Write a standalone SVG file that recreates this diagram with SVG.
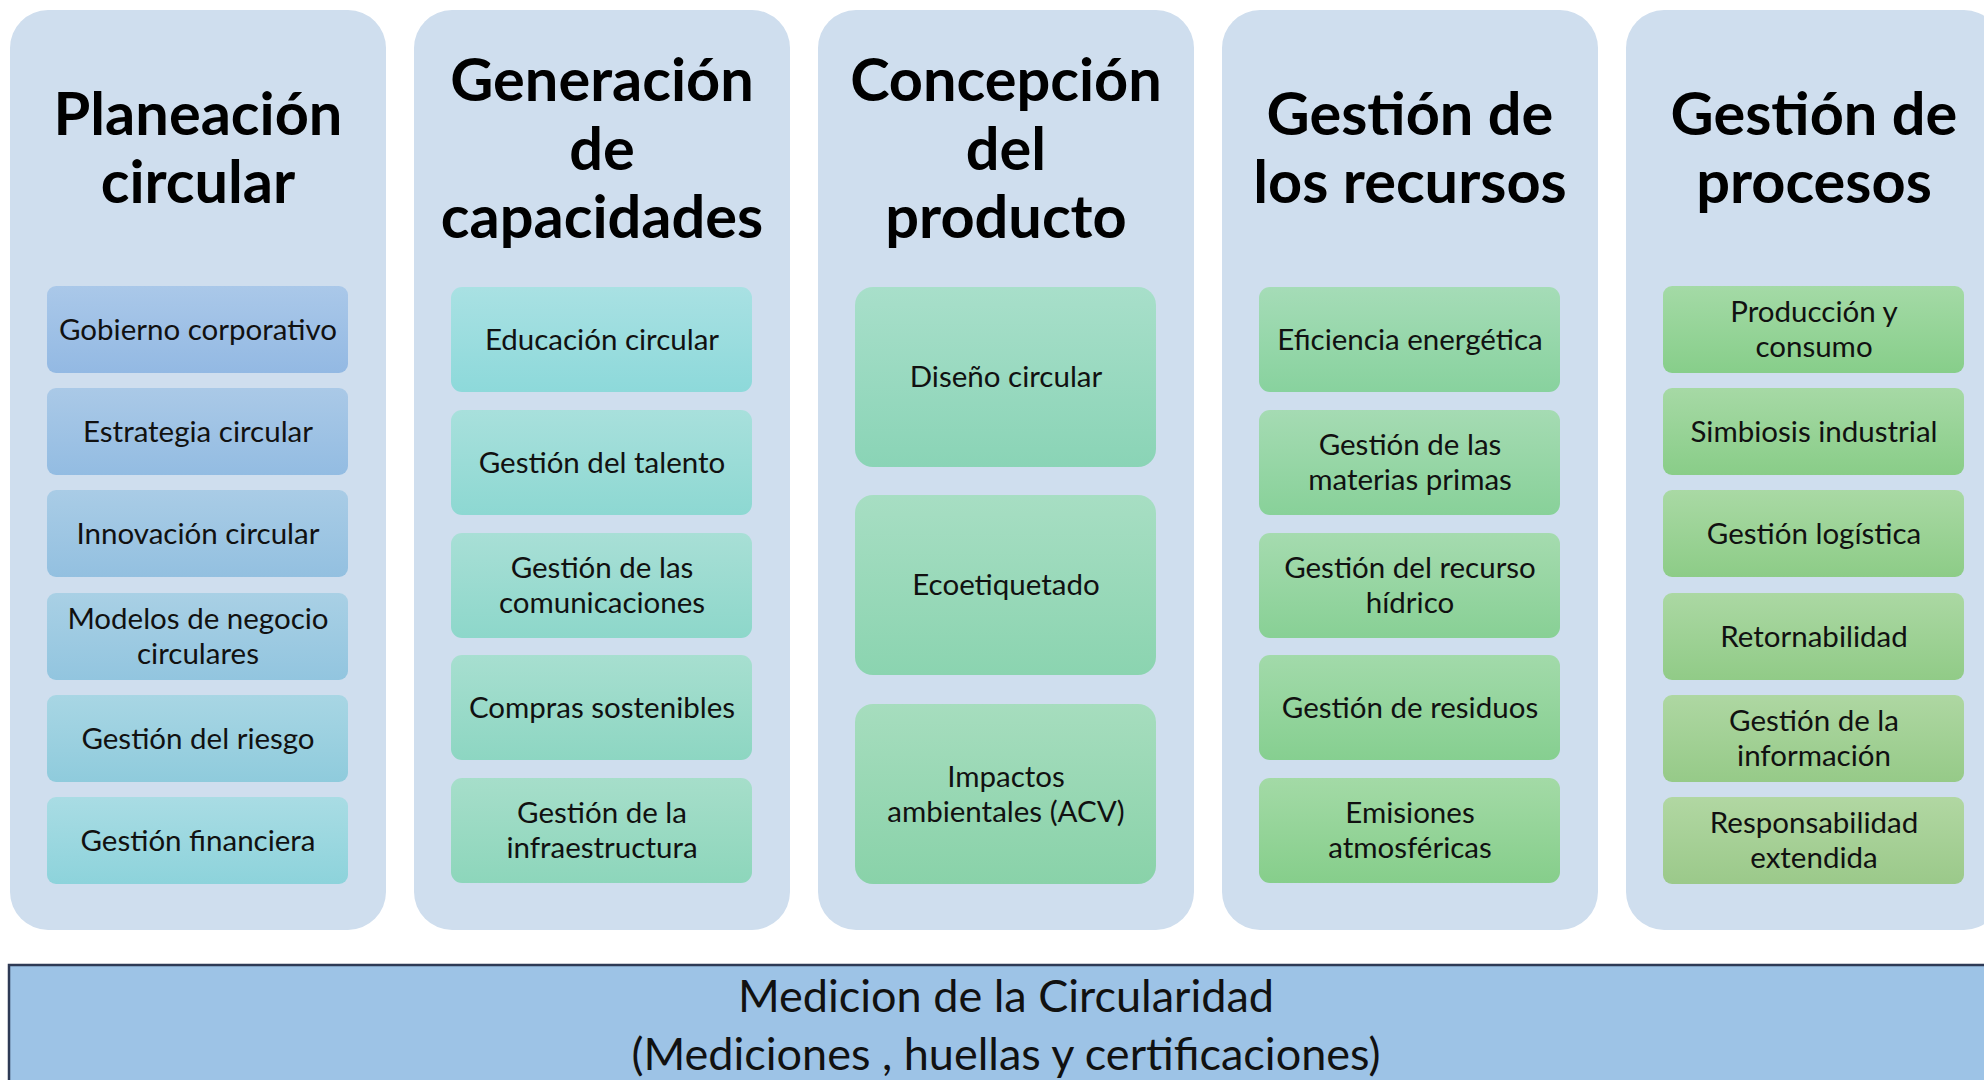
<svg xmlns="http://www.w3.org/2000/svg" width="1984" height="1080" viewBox="0 0 1984 1080">
<defs>
<style>
.col{fill:#CFDEEE}
.ttl{font-family:Lato,"Liberation Sans",sans-serif;font-weight:bold;font-size:59.5px;fill:#000;text-anchor:middle}
.lbl{font-family:Lato,"Liberation Sans",sans-serif;font-size:29.5px;fill:#111;text-anchor:middle}
.bot{font-family:Lato,"Liberation Sans",sans-serif;font-size:45px;fill:#111;text-anchor:middle}
</style>
<linearGradient id="a1" x1="0" y1="0" x2="0" y2="1"><stop offset="0" stop-color="#AAC8E9"/><stop offset="1" stop-color="#93B9E3"/></linearGradient>
<linearGradient id="a2" x1="0" y1="0" x2="0" y2="1"><stop offset="0" stop-color="#AAC9E7"/><stop offset="1" stop-color="#93BCE2"/></linearGradient>
<linearGradient id="a3" x1="0" y1="0" x2="0" y2="1"><stop offset="0" stop-color="#A9CCE6"/><stop offset="1" stop-color="#93C0E0"/></linearGradient>
<linearGradient id="a4" x1="0" y1="0" x2="0" y2="1"><stop offset="0" stop-color="#A9D0E5"/><stop offset="1" stop-color="#92C5DF"/></linearGradient>
<linearGradient id="a5" x1="0" y1="0" x2="0" y2="1"><stop offset="0" stop-color="#A8D6E4"/><stop offset="1" stop-color="#8FCBDC"/></linearGradient>
<linearGradient id="a6" x1="0" y1="0" x2="0" y2="1"><stop offset="0" stop-color="#A9DCE4"/><stop offset="1" stop-color="#8DD3DB"/></linearGradient>
<linearGradient id="b1" x1="0" y1="0" x2="0" y2="1"><stop offset="0" stop-color="#A9E1E3"/><stop offset="1" stop-color="#8DD9DA"/></linearGradient>
<linearGradient id="b2" x1="0" y1="0" x2="0" y2="1"><stop offset="0" stop-color="#A8E0DC"/><stop offset="1" stop-color="#8DD8D2"/></linearGradient>
<linearGradient id="b3" x1="0" y1="0" x2="0" y2="1"><stop offset="0" stop-color="#A8DFD6"/><stop offset="1" stop-color="#8DD7CA"/></linearGradient>
<linearGradient id="b4" x1="0" y1="0" x2="0" y2="1"><stop offset="0" stop-color="#A7DFD0"/><stop offset="1" stop-color="#8DD6C2"/></linearGradient>
<linearGradient id="b5" x1="0" y1="0" x2="0" y2="1"><stop offset="0" stop-color="#A6DECA"/><stop offset="1" stop-color="#8DD6BB"/></linearGradient>
<linearGradient id="c1" x1="0" y1="0" x2="0" y2="1"><stop offset="0" stop-color="#A8DFCA"/><stop offset="1" stop-color="#8AD4B6"/></linearGradient>
<linearGradient id="c2" x1="0" y1="0" x2="0" y2="1"><stop offset="0" stop-color="#A7DEC3"/><stop offset="1" stop-color="#8BD4B0"/></linearGradient>
<linearGradient id="c3" x1="0" y1="0" x2="0" y2="1"><stop offset="0" stop-color="#A6DDBE"/><stop offset="1" stop-color="#89D2A9"/></linearGradient>
<linearGradient id="d1" x1="0" y1="0" x2="0" y2="1"><stop offset="0" stop-color="#A5DCB7"/><stop offset="1" stop-color="#88D29E"/></linearGradient>
<linearGradient id="d2" x1="0" y1="0" x2="0" y2="1"><stop offset="0" stop-color="#A5DBB3"/><stop offset="1" stop-color="#88D199"/></linearGradient>
<linearGradient id="d3" x1="0" y1="0" x2="0" y2="1"><stop offset="0" stop-color="#A5DBAF"/><stop offset="1" stop-color="#88D095"/></linearGradient>
<linearGradient id="d4" x1="0" y1="0" x2="0" y2="1"><stop offset="0" stop-color="#A2DAAA"/><stop offset="1" stop-color="#86CF90"/></linearGradient>
<linearGradient id="d5" x1="0" y1="0" x2="0" y2="1"><stop offset="0" stop-color="#A3DAA6"/><stop offset="1" stop-color="#86CE8B"/></linearGradient>
<linearGradient id="e1" x1="0" y1="0" x2="0" y2="1"><stop offset="0" stop-color="#A4DAA6"/><stop offset="1" stop-color="#87CE8A"/></linearGradient>
<linearGradient id="e2" x1="0" y1="0" x2="0" y2="1"><stop offset="0" stop-color="#A6D9A5"/><stop offset="1" stop-color="#89CD88"/></linearGradient>
<linearGradient id="e3" x1="0" y1="0" x2="0" y2="1"><stop offset="0" stop-color="#A9D9A4"/><stop offset="1" stop-color="#8DCC87"/></linearGradient>
<linearGradient id="e4" x1="0" y1="0" x2="0" y2="1"><stop offset="0" stop-color="#ABD8A3"/><stop offset="1" stop-color="#91CB87"/></linearGradient>
<linearGradient id="e5" x1="0" y1="0" x2="0" y2="1"><stop offset="0" stop-color="#AED7A2"/><stop offset="1" stop-color="#96CA88"/></linearGradient>
<linearGradient id="e6" x1="0" y1="0" x2="0" y2="1"><stop offset="0" stop-color="#B1D7A2"/><stop offset="1" stop-color="#9BC98A"/></linearGradient>
</defs>
<rect width="1984" height="1080" fill="#FFFFFF"/>

<g id="col-planeacion">
<rect class="col" x="10" y="10" width="376" height="920" rx="38"/>
<text class="ttl" x="198" y="135">Planeación</text>
<text class="ttl" x="198" y="203">circular</text>
<g id="n-gobierno"><rect x="47" y="286" width="301" height="87" rx="9" fill="url(#a1)"/><text class="lbl" x="198" y="340">Gobierno corporativo</text></g>
<g id="n-estrategia"><rect x="47" y="388" width="301" height="87" rx="9" fill="url(#a2)"/><text class="lbl" x="198" y="442">Estrategia circular</text></g>
<g id="n-innovacion"><rect x="47" y="490" width="301" height="87" rx="9" fill="url(#a3)"/><text class="lbl" x="198" y="544">Innovación circular</text></g>
<g id="n-modelos"><rect x="47" y="593" width="301" height="87" rx="9" fill="url(#a4)"/><text class="lbl" x="198" y="629">Modelos de negocio</text><text class="lbl" x="198" y="664">circulares</text></g>
<g id="n-riesgo"><rect x="47" y="695" width="301" height="87" rx="9" fill="url(#a5)"/><text class="lbl" x="198" y="749">Gestión del riesgo</text></g>
<g id="n-financiera"><rect x="47" y="797" width="301" height="87" rx="9" fill="url(#a6)"/><text class="lbl" x="198" y="851">Gestión financiera</text></g>
</g>

<g id="col-capacidades">
<rect class="col" x="414" y="10" width="376" height="920" rx="38"/>
<text class="ttl" x="602" y="101">Generación</text>
<text class="ttl" x="602" y="170">de</text>
<text class="ttl" x="602" y="238">capacidades</text>
<g id="n-educacion"><rect x="451" y="287" width="301" height="105" rx="11" fill="url(#b1)"/><text class="lbl" x="602" y="350">Educación circular</text></g>
<g id="n-talento"><rect x="451" y="410" width="301" height="105" rx="11" fill="url(#b2)"/><text class="lbl" x="602" y="473">Gestión del talento</text></g>
<g id="n-comunicaciones"><rect x="451" y="533" width="301" height="105" rx="11" fill="url(#b3)"/><text class="lbl" x="602" y="578">Gestión de las</text><text class="lbl" x="602" y="613">comunicaciones</text></g>
<g id="n-compras"><rect x="451" y="655" width="301" height="105" rx="11" fill="url(#b4)"/><text class="lbl" x="602" y="718">Compras sostenibles</text></g>
<g id="n-infraestructura"><rect x="451" y="778" width="301" height="105" rx="11" fill="url(#b5)"/><text class="lbl" x="602" y="823">Gestión de la</text><text class="lbl" x="602" y="858">infraestructura</text></g>
</g>

<g id="col-concepcion">
<rect class="col" x="818" y="10" width="376" height="920" rx="38"/>
<text class="ttl" x="1006" y="101">Concepción</text>
<text class="ttl" x="1006" y="170">del</text>
<text class="ttl" x="1006" y="238">producto</text>
<g id="n-diseno"><rect x="855" y="287" width="301" height="180" rx="18" fill="url(#c1)"/><text class="lbl" x="1006" y="387">Diseño circular</text></g>
<g id="n-ecoetiquetado"><rect x="855" y="495" width="301" height="180" rx="18" fill="url(#c2)"/><text class="lbl" x="1006" y="595">Ecoetiquetado</text></g>
<g id="n-impactos"><rect x="855" y="704" width="301" height="180" rx="18" fill="url(#c3)"/><text class="lbl" x="1006" y="787">Impactos</text><text class="lbl" x="1006" y="822">ambientales (ACV)</text></g>
</g>

<g id="col-recursos">
<rect class="col" x="1222" y="10" width="376" height="920" rx="38"/>
<text class="ttl" x="1410" y="135">Gestión de</text>
<text class="ttl" x="1410" y="203">los recursos</text>
<g id="n-energetica"><rect x="1259" y="287" width="301" height="105" rx="11" fill="url(#d1)"/><text class="lbl" x="1410" y="350">Eficiencia energética</text></g>
<g id="n-materias"><rect x="1259" y="410" width="301" height="105" rx="11" fill="url(#d2)"/><text class="lbl" x="1410" y="455">Gestión de las</text><text class="lbl" x="1410" y="490">materias primas</text></g>
<g id="n-hidrico"><rect x="1259" y="533" width="301" height="105" rx="11" fill="url(#d3)"/><text class="lbl" x="1410" y="578">Gestión del recurso</text><text class="lbl" x="1410" y="613">hídrico</text></g>
<g id="n-residuos"><rect x="1259" y="655" width="301" height="105" rx="11" fill="url(#d4)"/><text class="lbl" x="1410" y="718">Gestión de residuos</text></g>
<g id="n-emisiones"><rect x="1259" y="778" width="301" height="105" rx="11" fill="url(#d5)"/><text class="lbl" x="1410" y="823">Emisiones</text><text class="lbl" x="1410" y="858">atmosféricas</text></g>
</g>

<g id="col-procesos">
<rect class="col" x="1626" y="10" width="376" height="920" rx="38"/>
<text class="ttl" x="1814" y="135">Gestión de</text>
<text class="ttl" x="1814" y="203">procesos</text>
<g id="n-produccion"><rect x="1663" y="286" width="301" height="87" rx="9" fill="url(#e1)"/><text class="lbl" x="1814" y="322">Producción y</text><text class="lbl" x="1814" y="357">consumo</text></g>
<g id="n-simbiosis"><rect x="1663" y="388" width="301" height="87" rx="9" fill="url(#e2)"/><text class="lbl" x="1814" y="442">Simbiosis industrial</text></g>
<g id="n-logistica"><rect x="1663" y="490" width="301" height="87" rx="9" fill="url(#e3)"/><text class="lbl" x="1814" y="544">Gestión logística</text></g>
<g id="n-retornabilidad"><rect x="1663" y="593" width="301" height="87" rx="9" fill="url(#e4)"/><text class="lbl" x="1814" y="647">Retornabilidad</text></g>
<g id="n-informacion"><rect x="1663" y="695" width="301" height="87" rx="9" fill="url(#e5)"/><text class="lbl" x="1814" y="731">Gestión de la</text><text class="lbl" x="1814" y="766">información</text></g>
<g id="n-responsabilidad"><rect x="1663" y="797" width="301" height="87" rx="9" fill="url(#e6)"/><text class="lbl" x="1814" y="833">Responsabilidad</text><text class="lbl" x="1814" y="868">extendida</text></g>
</g>

<g id="connectors"></g>

<g id="medicion">
<rect x="9" y="965" width="1990" height="130" fill="#9DC3E6" stroke="#2E3A55" stroke-width="2.5"/>
<text class="bot" x="1006" y="1012">Medicion de la Circularidad</text>
<text class="bot" x="1006" y="1070">(Mediciones , huellas y certificaciones)</text>
</g>
</svg>
